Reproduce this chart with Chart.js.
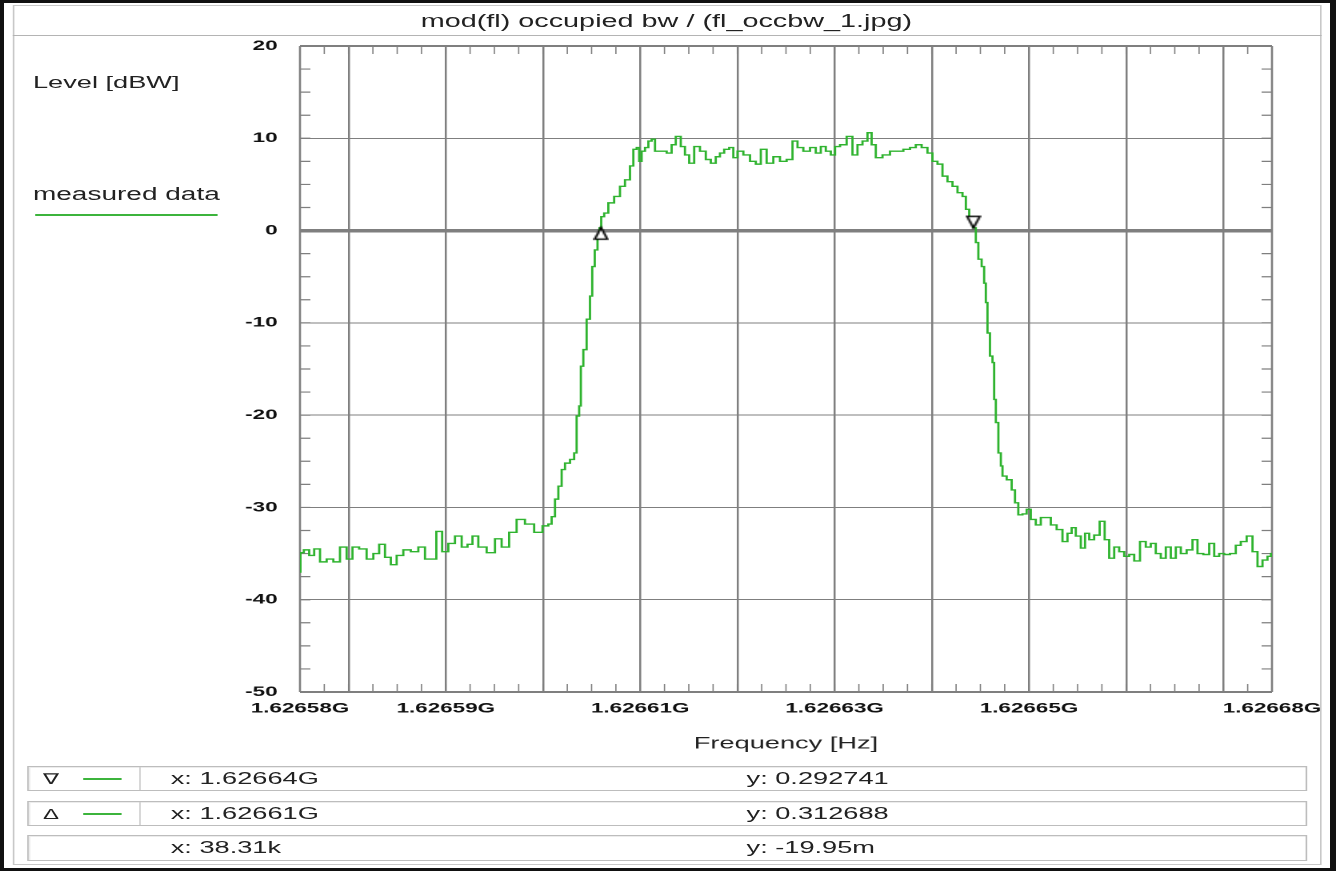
<!DOCTYPE html>
<html>
<head>
<meta charset="utf-8">
<title>mod(fl) occupied bw</title>
<script src="https://cdn.jsdelivr.net/npm/chart.js@4.4.1/dist/chart.umd.min.js"></script>
<style>
  html, body { margin: 0; padding: 0; background: #fff; }
  body { width: 1336px; height: 871px; overflow: hidden; position: relative;
         font-family: "Liberation Sans", Arial, sans-serif; color: #222; }
  #outer { position: absolute; left: 0; top: 0; width: 1336px; height: 871px; box-sizing: border-box;
           border-style: solid; border-color: #111; border-width: 3px 6px 3px 4px; z-index: 5; pointer-events: none; }
  /* the reference is a horizontally stretched screenshot, so everything is laid out
     at 1/1.6 of the width and stretched back */
  #stage { position: absolute; left: 0; top: 0; width: 835px; height: 871px;
           transform: scaleX(1.6); transform-origin: 0 0; }
  #panel { position: absolute; left: 7.5px; top: 5px; width: 818px; height: 860px;
           border: 1px solid #c8c8c8; box-sizing: border-box; }
  #titlebar { position: absolute; left: 7.5px; top: 5px; width: 818px; height: 31px;
              border-bottom: 1px solid #b4b4b4; box-sizing: border-box;
              text-align: center; font-size: 18px; line-height: 32px; color: #222; }
  .lbl { position: absolute; white-space: nowrap; font-size: 17px; line-height: 20px; }
  #ylab { left: 20.6px; top: 73px; }
  #leg { left: 20.6px; top: 184px; font-size: 17.5px; }
  #legline { position: absolute; left: 21.9px; top: 214px; width: 113.7px; height: 1.5px; background: #3cb43c; }
  #plotwrap { position: absolute; left: 0; top: 36px; }
  .row { position: absolute; left: 16.9px; width: 800px; height: 25px; box-sizing: border-box;
         border: 1px solid #bdbdbd; box-shadow: inset 1px 1px 0 #ececec; font-size: 17px; line-height: 23px; }
  .row span { position: absolute; top: 0; white-space: nowrap; }
  .sym { left: 9px; font-size: 15px; }
  .sw { position: absolute; left: 21.9px; top: 0; width: 47.5px; height: 23px; border-right: 1px solid #cfcfcf; }
  .sw i { position: absolute; left: 12.5px; top: 11px; width: 23.75px; height: 1.5px; background: #3cb43c; }
  .xv { left: 88.8px; }
  .yv { left: 448.7px; }
</style>
</head>
<body>
<div id="outer"></div>
<div id="stage">
  <div id="panel"></div>
  <div id="titlebar">mod(fl) occupied bw / (fl_occbw_1.jpg)</div>
  <div class="lbl" id="ylab">Level [dBW]</div>
  <div class="lbl" id="leg">measured data</div>
  <div id="legline"></div>
  <div id="plotwrap"><canvas id="plot" width="835" height="724"></canvas></div>
  <div class="row" style="top:766px"><span class="sym">&#8711;</span><div class="sw"><i></i></div><span class="xv">x: 1.62664G</span><span class="yv">y: 0.292741</span></div>
  <div class="row" style="top:801px"><span class="sym">&#916;</span><div class="sw"><i></i></div><span class="xv">x: 1.62661G</span><span class="yv">y: 0.312688</span></div>
  <div class="row" style="top:835px; height:26px"><span class="xv">x: 38.31k</span><span class="yv">y: -19.95m</span></div>
</div>
<script>
// Frequency is kept as offset in kHz from the left edge of the sweep (1.626575 GHz)
const freqOffsetKHz = [
  0.00, 0.10, 0.69, 1.20, 1.72, 2.40, 3.09, 3.77, 4.46, 5.14, 5.66, 6.51, 7.20, 7.89, 8.40, 9.09, 9.60,
  10.29, 10.97, 11.83, 12.52, 13.20, 13.72, 14.33, 14.92, 15.60, 16.29, 16.98, 17.49, 18.00, 18.69, 19.72,
  20.40, 21.09, 21.94, 22.63, 23.66, 24.52, 25.38, 25.72, 26.06, 26.41, 26.75, 27.09, 27.44, 28.12, 28.29,
  28.63, 28.81, 28.98, 29.32, 29.66, 30.01, 30.12, 30.53, 30.69, 30.94, 31.04, 31.55, 31.89, 32.75, 33.09,
  33.78, 34.12, 34.47, 34.81, 34.98, 35.32, 35.67, 36.01, 36.35, 36.70, 37.38, 38.07, 38.40, 38.92, 39.43,
  39.78, 40.30, 40.81, 41.49, 42.01, 42.52, 43.03, 43.38, 43.90, 44.41, 44.75, 45.27, 45.96, 46.64, 47.15,
  47.67, 48.35, 49.04, 49.72, 50.41, 50.93, 51.44, 52.13, 52.81, 53.32, 53.84, 54.35, 54.87, 55.22, 55.90,
  56.58, 57.10, 57.61, 58.13, 58.64, 58.98, 59.50, 60.36, 61.04, 61.73, 62.42, 63.10, 63.61, 64.30, 64.81,
  65.33, 65.84, 66.36, 66.87, 67.39, 67.90, 68.42, 68.59, 69.11, 69.44, 69.62, 69.96, 70.30, 70.47, 70.65,
  70.81, 71.16, 71.33, 71.50, 71.68, 72.02, 72.19, 72.36, 73.05, 73.39, 73.73, 74.07, 74.59, 74.93, 75.44,
  75.96, 76.47, 76.99, 77.50, 78.19, 78.70, 79.22, 79.56, 80.07, 80.59, 80.94, 81.45, 81.96, 82.58, 82.99,
  83.51, 84.02, 84.54, 85.05, 85.57, 86.08, 86.76, 87.27, 87.79, 88.30, 88.82, 89.33, 89.85, 90.36, 90.88,
  91.56, 92.08, 92.59, 93.28, 93.80, 94.31, 94.83, 95.34, 96.02, 96.53, 97.05, 97.74, 98.25, 98.77, 99.28,
  99.79, 100.00
];
const levelDbw = [
  -37.0, -34.9, -34.6, -35.2, -34.5, -35.9, -35.6, -35.9, -34.3, -35.6, -34.3, -34.5, -35.6, -35.0, -34.0, -35.4, -36.2,
  -35.2, -34.6, -34.8, -34.3, -35.6, -35.6, -32.6, -34.8, -33.9, -33.1, -34.3, -34.0, -33.1, -34.3, -34.9,
  -33.4, -34.3, -32.7, -31.3, -31.8, -32.7, -32.0, -31.8, -31.0, -29.1, -27.7, -25.9, -25.2, -24.8, -24.1,
  -20.1, -19.0, -14.7, -12.9, -9.6, -7.1, -3.9, -2.1, -0.6, 0.3, 1.5, 1.9, 3.0, 3.7, 4.8,
  5.5, 7.0, 8.8, 9.0, 7.5, 8.6, 9.0, 9.7, 9.9, 8.6, 8.6, 8.4, 9.3, 10.2, 9.1,
  8.2, 7.3, 9.1, 8.6, 7.7, 7.3, 8.0, 8.4, 8.8, 9.0, 7.9, 8.6, 8.2, 7.5, 7.2,
  8.8, 7.3, 8.0, 7.5, 7.7, 9.7, 9.0, 8.6, 9.0, 8.4, 9.1, 8.6, 8.2, 9.1, 9.3,
  10.2, 8.2, 9.3, 9.7, 10.6, 9.3, 7.9, 8.2, 8.6, 8.6, 8.8, 9.0, 9.3, 9.0, 8.4,
  7.5, 7.2, 5.9, 5.3, 4.8, 4.1, 3.7, 2.3, 1.5, 0.3, -1.3, -3.1, -3.9, -5.7, -7.8,
  -11.1, -13.6, -14.3, -18.3, -20.8, -24.1, -25.5, -26.6, -27.0, -28.1, -29.5, -30.8, -30.7, -30.2, -31.3,
  -31.9, -31.1, -31.1, -31.9, -32.4, -33.7, -32.8, -32.2, -33.1, -34.4, -32.8, -33.5, -33.0, -31.5, -33.5,
  -35.5, -34.3, -34.8, -35.3, -35.1, -35.8, -33.7, -34.3, -33.9, -35.0, -35.5, -34.3, -35.5, -34.3, -35.0,
  -34.6, -33.5, -35.0, -35.1, -33.9, -35.3, -35.0, -35.1, -35.0, -34.1, -33.7, -33.1, -34.8, -36.4, -35.7,
  -35.3, -35.0
];

// occupied bandwidth markers (upper, lower)
const markerOffsetKHz = [69.28, 30.97];
const markerLevelDbw = [0.292741, 0.312688];

// axis ticks
const gridOffsetKHz = [5, 15, 25, 35, 45, 55, 65, 75, 85, 95];
const xLabelOffsetKHz = [0, 15, 35, 55, 75, 100];
const xLabelText = ['1.62658G', '1.62659G', '1.62661G', '1.62663G', '1.62665G', '1.62668G'];
const yTicks = [-50, -40, -30, -20, -10, 0, 10, 20];

const FONT = '"Liberation Sans", Arial, sans-serif';
const GRID = '#7f7f7f';

// marker glyphs: apex sits on the data point
function triangleGlyph(pointsDown) {
  const c = document.createElement('canvas');
  c.width = 10; c.height = 26;
  const g = c.getContext('2d');
  g.beginPath();
  if (pointsDown) { g.moveTo(1, 1.5); g.lineTo(9, 1.5); g.lineTo(5, 13); }
  else { g.moveTo(5, 13); g.lineTo(9, 24.5); g.lineTo(1, 24.5); }
  g.closePath();
  g.fillStyle = '#fff';
  g.fill();
  g.lineWidth = 1.4;
  g.strokeStyle = '#000';
  g.stroke();
  return c;
}

// plot frame plus the small inward ticks every 2.5 kHz / 2.5 dB
const framePlugin = {
  id: 'frame',
  beforeDatasetsDraw(chart) {
    const { ctx, chartArea: a, scales: { x, y } } = chart;
    ctx.save();
    ctx.strokeStyle = GRID;
    ctx.lineWidth = 0.8;
    ctx.beginPath();
    for (let k = 2.5; k < 100; k += 2.5) {
      const px = x.getPixelForValue(k);
      ctx.moveTo(px, a.top); ctx.lineTo(px, a.top + 8);
      ctx.moveTo(px, a.bottom); ctx.lineTo(px, a.bottom - 8);
    }
    ctx.stroke();
    ctx.lineWidth = 1.2;
    ctx.beginPath();
    for (let d = -47.5; d < 20; d += 2.5) {
      const py = y.getPixelForValue(d);
      ctx.moveTo(a.left, py); ctx.lineTo(a.left + 6.5, py);
      ctx.moveTo(a.right, py); ctx.lineTo(a.right - 6.5, py);
    }
    ctx.stroke();
    // frame
    ctx.lineWidth = 1.3;
    ctx.beginPath();
    ctx.moveTo(a.left, a.top); ctx.lineTo(a.left, a.bottom);
    ctx.moveTo(a.right, a.top); ctx.lineTo(a.right, a.bottom);
    ctx.stroke();
    ctx.lineWidth = 2;
    ctx.beginPath();
    ctx.moveTo(a.left, a.top); ctx.lineTo(a.right, a.top);
    ctx.moveTo(a.left, a.bottom); ctx.lineTo(a.right, a.bottom);
    ctx.stroke();
    ctx.restore();
  }
};

const traceData = freqOffsetKHz.map((f, i) => ({ x: f, y: levelDbw[i] }));
const markerData = markerOffsetKHz.map((f, i) => ({ x: f, y: markerLevelDbw[i] }));

new Chart(document.getElementById('plot'), {
  type: 'line',
  data: {
    datasets: [
      {
        label: 'markers',
        data: markerData,
        showLine: false,
        pointStyle: [triangleGlyph(true), triangleGlyph(false)],
        pointRadius: 6,
        order: 0
      },
      {
        label: 'measured data',
        data: traceData,
        borderColor: '#2fb32f',
        borderWidth: 1.4,
        pointRadius: 0,
        stepped: 'middle',
        fill: false,
        order: 1
      }
    ]
  },
  options: {
    responsive: false,
    devicePixelRatio: 2,
    animation: false,
    layout: { padding: { left: 100, right: 40, top: 0, bottom: 2 } },
    plugins: { legend: { display: false }, tooltip: { enabled: false } },
    scales: {
      x: {
        type: 'linear',
        min: 0,
        max: 100,
        afterBuildTicks: (s) => { s.ticks = [0, ...gridOffsetKHz, 100].map(v => ({ value: v })); },
        afterFit: (s) => { s.height = 66; },
        border: { display: false },
        grid: {
          drawTicks: false,
          lineWidth: 1.25,
          color: (c) => (c.tick && gridOffsetKHz.includes(c.tick.value)) ? GRID : 'rgba(0,0,0,0)'
        },
        ticks: {
          autoSkip: false,
          maxRotation: 0,
          padding: 8,
          color: '#111',
          font: { family: FONT, size: 14, weight: 'bold' },
          callback: (v) => {
            const i = xLabelOffsetKHz.indexOf(v);
            return i >= 0 ? xLabelText[i] : '';
          }
        },
        title: {
          display: true,
          text: 'Frequency [Hz]',
          color: '#222',
          font: { family: FONT, size: 17 },
          padding: { top: 0, bottom: 4 }
        }
      },
      y: {
        min: -50,
        max: 20,
        afterBuildTicks: (s) => { s.ticks = yTicks.map(v => ({ value: v })); },
        // fixed width, and only enough room above for half of the "20" label
        afterFit: (s) => { s.width = 87.5; s.paddingTop = 10; s.paddingBottom = 0; },
        border: { display: false },
        grid: {
          drawTicks: false,
          color: GRID,
          lineWidth: (c) => (c.tick && c.tick.value === 0) ? 3.5 : 1
        },
        ticks: {
          padding: 14,
          color: '#111',
          font: { family: FONT, size: 14, weight: 'bold' }
        }
      }
    }
  },
  plugins: [framePlugin]
});
</script>
</body>
</html>
